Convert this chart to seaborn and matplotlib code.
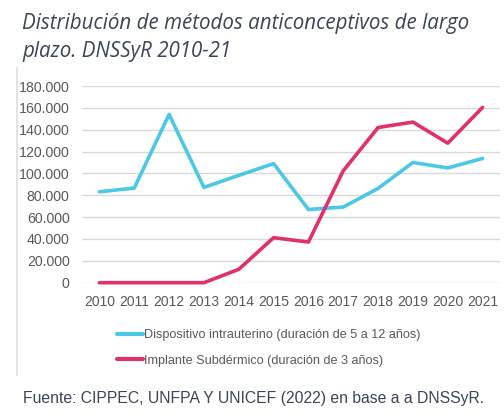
import pandas as pd
import matplotlib.pyplot as plt
import matplotlib.ticker as mticker
import seaborn as sns

years = list(range(2010, 2022))
diu = [83200, 86600, 154000, 87200, 98200, 109000, 67000, 69200, 86300, 110000, 105000, 113700]
implante = [0, 0, 0, 0, 12200, 41200, 37200, 102400, 142000, 147000, 127700, 160400]
label_diu = "Dispositivo intrauterino (duración de 5 a 12 años)"
label_imp = "Implante Subdérmico (duración de 3 años)"

df = pd.DataFrame({
    "anio": years * 2,
    "valor": diu + implante,
    "serie": [label_diu] * len(years) + [label_imp] * len(years),
})

sns.set_style("white")
plt.rcParams['font.family'] = ['Liberation Sans', 'DejaVu Sans']

fig = plt.figure(figsize=(5.04, 4.2), dpi=100)
ax = fig.add_axes([82 / 504, 1 - 282.7 / 420, 418 / 504, (282.7 - 86) / 420])

palette = {label_diu: "#4cc7e6", label_imp: "#e0306e"}
sns.lineplot(data=df, x="anio", y="valor", hue="serie", palette=palette,
             linewidth=2.6, ax=ax, legend=False, clip_on=False)

ax.set_xlim(2009.5, 2021.5)
ax.set_ylim(0, 180000)
ax.set_xticks(years)
ax.set_yticks(range(0, 180001, 20000))
ax.yaxis.set_major_formatter(mticker.FuncFormatter(lambda v, p: f"{int(v):,}".replace(",", ".")))
ax.grid(axis="y", color="#d9d9d9", linewidth=1)
ax.set_axisbelow(True)
for s in ax.spines.values():
    s.set_visible(False)
ax.tick_params(axis="y", labelsize=10.2, colors="#595959", length=0, pad=9)
ax.tick_params(axis="x", labelsize=10, colors="#595959", length=0, pad=9)
ax.set_xlabel("")
ax.set_ylabel("")

# leyenda
handles = [plt.Line2D([], [], color=palette[l], linewidth=3) for l in [label_diu, label_imp]]
fig.legend(handles, [label_diu, label_imp], loc="upper left", bbox_to_anchor=(106 / 504, 1 - 318 / 420),
           frameon=False, fontsize=9.1, handlelength=2.0, handletextpad=0.1, labelspacing=1.05,
           labelcolor="#595959")

# borde izquierdo
fig.add_artist(plt.Line2D([16.5 / 504, 16.5 / 504], [1 - 375 / 420, 1 - 68 / 420], color="#e3e3e3", linewidth=1.5))

fig.text(22 / 504, 1 - 13 / 420, "Distribución de métodos anticonceptivos de largo\nplazo. DNSSyR 2010-21",
         family=["Open Sans", "DejaVu Sans"], style="italic", fontsize=14.8, color="#3b4556",
         va="top", linespacing=1.45)
fig.text(23 / 504, 1 - 398 / 420, "Fuente: CIPPEC, UNFPA Y UNICEF (2022) en base a a DNSSyR.",
         fontsize=11.3, color="#3b4556", va="center")

fig.savefig("out.png", dpi=100)
